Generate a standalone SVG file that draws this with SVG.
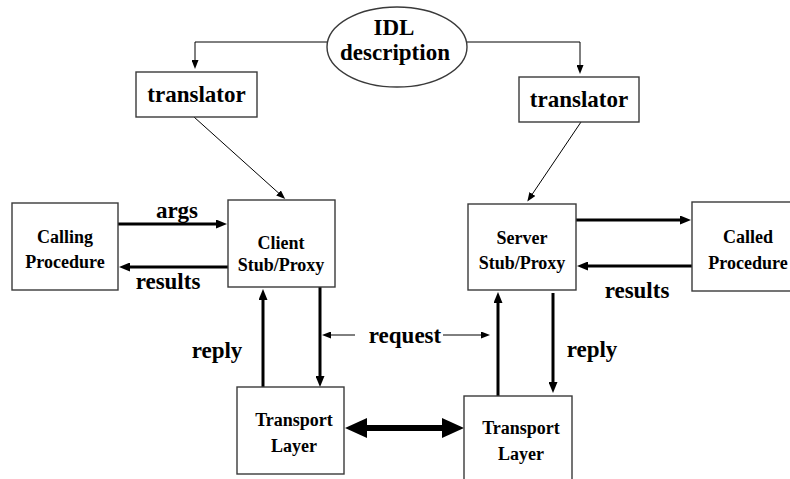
<svg xmlns="http://www.w3.org/2000/svg" width="790" height="479" viewBox="0 0 790 479">
  <style>
    .box { fill: #fff; stroke: #3a3a3a; stroke-width: 1.4; }
    text { font-family: 'Liberation Serif', Tinos, 'Times New Roman', 'DejaVu Serif', serif; font-weight: bold; fill: #000; text-anchor: middle; }
    .big { font-size: 23px; }
    .mid { font-size: 18px; }
    .thin { stroke: #000; stroke-width: 1; fill: none; }
    .thick { stroke: #000; stroke-width: 3; fill: none; }
    .fat { stroke: #000; stroke-width: 6; fill: none; }
  </style>
  <defs>
    <marker id="ah-thin" markerUnits="userSpaceOnUse" markerWidth="9" markerHeight="7" refX="6" refY="3.5" orient="auto">
      <path d="M0,0 L9,3.5 L0,7 z" fill="#000"/>
    </marker>
    <marker id="ah-thick" markerUnits="userSpaceOnUse" markerWidth="11" markerHeight="9" refX="6" refY="4.5" orient="auto">
      <path d="M0,0 L11,4.5 L0,9 z" fill="#000"/>
    </marker>
    <marker id="ah-fat" markerUnits="userSpaceOnUse" markerWidth="22" markerHeight="20" refX="10" refY="10" orient="auto-start-reverse">
      <path d="M0,0 L22,10 L0,20 z" fill="#000"/>
    </marker>
  </defs>

  <rect width="790" height="479" fill="#fff"/>

  <!-- connectors -->
  <g id="connectors">
    <!-- IDL to translators -->
    <path class="thin" d="M327,42 H195 V66" marker-end="url(#ah-thin)"/>
    <path class="thin" d="M467,42 H580 V71" marker-end="url(#ah-thin)"/>
    <!-- translators to stubs -->
    <line class="thin" x1="194" y1="117" x2="283" y2="197" marker-end="url(#ah-thin)"/>
    <line class="thin" x1="581" y1="122" x2="529" y2="199" marker-end="url(#ah-thin)"/>
    <!-- calling procedure <-> client stub -->
    <line class="thick" x1="118" y1="224" x2="222" y2="224" marker-end="url(#ah-thick)"/>
    <line class="thick" x1="228" y1="267" x2="124" y2="267" marker-end="url(#ah-thick)"/>
    <!-- server stub <-> called procedure -->
    <line class="thick" x1="576" y1="220" x2="686" y2="220" marker-end="url(#ah-thick)"/>
    <line class="thick" x1="692" y1="266" x2="582" y2="266" marker-end="url(#ah-thick)"/>
    <!-- client stub <-> transport -->
    <line class="thick" x1="263" y1="387" x2="263" y2="294" marker-end="url(#ah-thick)"/>
    <line class="thick" x1="320" y1="287" x2="320" y2="382" marker-end="url(#ah-thick)"/>
    <!-- server stub <-> transport -->
    <line class="thick" x1="498" y1="396" x2="498" y2="297" marker-end="url(#ah-thick)"/>
    <line class="thick" x1="553" y1="293" x2="553" y2="388" marker-end="url(#ah-thick)"/>
    <!-- request pointers -->
    <line class="thin" x1="355" y1="335" x2="325" y2="335" marker-end="url(#ah-thin)"/>
    <line class="thin" x1="443" y1="335" x2="487" y2="335" marker-end="url(#ah-thin)"/>
    <!-- transport link -->
    <line class="fat" x1="357" y1="428" x2="452" y2="428" marker-start="url(#ah-fat)" marker-end="url(#ah-fat)"/>
  </g>

  <!-- nodes -->
  <g id="idl">
    <ellipse class="box" cx="397" cy="47" rx="70" ry="40" stroke-width="1"/>
    <text x="394" y="35" font-size="23">IDL</text>
    <text x="395" y="60" font-size="23">description</text>
  </g>

  <g id="translator-left">
    <rect class="box" x="136" y="72" width="121" height="45"/>
    <text class="big" x="196.5" y="102">translator</text>
  </g>

  <g id="translator-right">
    <rect class="box" x="519" y="77" width="120" height="45"/>
    <text class="big" x="579" y="107">translator</text>
  </g>

  <g id="calling-procedure">
    <rect class="box" x="12" y="203" width="106" height="87"/>
    <text class="mid" x="65" y="243">Calling</text>
    <text class="mid" x="65" y="268">Procedure</text>
  </g>

  <g id="client-stub">
    <rect class="box" x="228" y="200" width="107" height="87"/>
    <text class="mid" x="281" y="249">Client</text>
    <text class="mid" x="281" y="271">Stub/Proxy</text>
  </g>

  <g id="server-stub">
    <rect class="box" x="468" y="204" width="108" height="86"/>
    <text class="mid" x="522" y="244">Server</text>
    <text class="mid" x="522" y="269">Stub/Proxy</text>
  </g>

  <g id="called-procedure">
    <rect class="box" x="692" y="202" width="114" height="89"/>
    <text class="mid" x="748" y="243">Called</text>
    <text class="mid" x="748" y="269">Procedure</text>
  </g>

  <g id="transport-left">
    <rect class="box" x="237" y="387" width="107" height="87"/>
    <text class="mid" x="294" y="426">Transport</text>
    <text class="mid" x="294" y="452">Layer</text>
  </g>

  <g id="transport-right">
    <rect class="box" x="464" y="396" width="108" height="90"/>
    <text class="mid" x="521" y="434">Transport</text>
    <text class="mid" x="521" y="460">Layer</text>
  </g>

  <!-- edge labels -->
  <g id="labels">
    <text class="big" x="177" y="218">args</text>
    <text class="big" x="168" y="289">results</text>
    <text class="big" x="637" y="298">results</text>
    <text class="big" x="405" y="343">request</text>
    <text class="big" x="217" y="358">reply</text>
    <text class="big" x="592" y="357">reply</text>
  </g>
</svg>
